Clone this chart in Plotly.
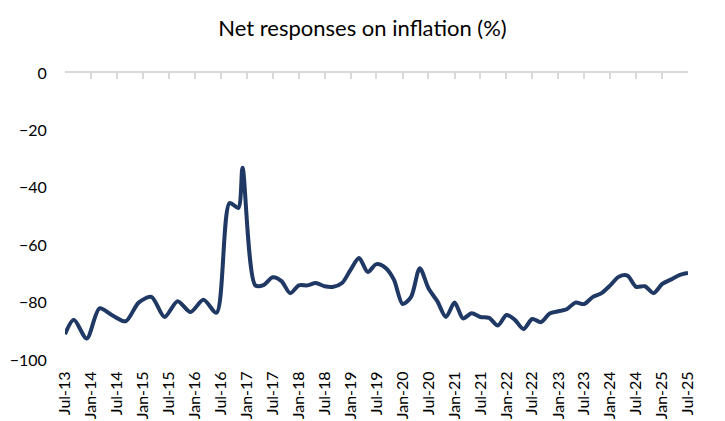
import plotly.graph_objects as go

dates = [
    "2013-07-01", "2013-09-01", "2013-12-01", "2014-03-01", "2014-06-01", "2014-09-01",
    "2014-12-01", "2015-03-01", "2015-06-01", "2015-09-01", "2015-12-01", "2016-03-01",
    "2016-06-01", "2016-09-01", "2016-11-01", "2016-12-01", "2017-03-01", "2017-05-01",
    "2017-07-01", "2017-09-01", "2017-11-01", "2018-01-01", "2018-03-01", "2018-05-01",
    "2018-07-01", "2018-09-01", "2018-11-01", "2019-01-01", "2019-03-01", "2019-05-01",
    "2019-07-01", "2019-09-01", "2019-11-01", "2020-01-01", "2020-03-01", "2020-05-01",
    "2020-07-01", "2020-09-01", "2020-11-01", "2021-01-01", "2021-03-01", "2021-05-01",
    "2021-07-01", "2021-09-01", "2021-11-01", "2022-01-01", "2022-03-01", "2022-05-01",
    "2022-07-01", "2022-09-01", "2022-11-01", "2023-01-01", "2023-03-01", "2023-05-01",
    "2023-07-01", "2023-09-01", "2023-11-01", "2024-01-01", "2024-03-01", "2024-05-01",
    "2024-07-01", "2024-09-01", "2024-11-01", "2025-01-01", "2025-03-01", "2025-05-01",
    "2025-07-01",
]
net_inflation = [
    -91.0, -86.0, -92.5, -82.0, -84.5, -86.5,
    -80.0, -78.0, -85.0, -79.5, -83.3, -79.0,
    -83.5, -45.3, -47.0, -33.0, -74.0, -73.8,
    -71.2, -72.5, -76.7, -74.0, -74.0, -73.2,
    -74.3, -74.5, -73.2, -68.5, -64.5, -69.3,
    -66.6, -67.8, -72.0, -80.5, -78.0, -68.0,
    -75.0, -79.5, -85.0, -80.0, -85.5, -83.7,
    -85.0, -85.3, -88.0, -84.3, -86.0, -89.2,
    -85.7, -86.8, -83.8, -83.0, -82.3, -80.0,
    -80.5, -78.0, -76.7, -74.0, -71.0, -70.6,
    -74.5, -74.3, -76.7, -73.5, -72.0, -70.4,
    -69.7,
]

tick_dates = []
tick_labels = []
for yr in range(13, 26):
    if yr > 13:
        tick_dates.append(f"20{yr}-01-01")
        tick_labels.append(f"Jan-{yr}")
    tick_dates.append(f"20{yr}-07-01")
    tick_labels.append(f"Jul-{yr}")

title_text = "Net responses on inflation (%)"
font_family = "Lato, Carlito, Calibri, sans-serif"

fig = go.Figure()
fig.add_trace(go.Scatter(
    x=dates, y=net_inflation, mode="lines",
    line=dict(color="#1F3864", width=4, shape="spline", smoothing=0.8),
    showlegend=False, hoverinfo="skip",
))
fig.add_trace(go.Scatter(
    x=[dates[0]], y=[None], xaxis="x2", mode="lines",
    showlegend=False, hoverinfo="skip",
))

fig.update_layout(
    width=725, height=421,
    margin=dict(l=65, r=37, t=73, b=61, autoexpand=False),
    paper_bgcolor="white", plot_bgcolor="white",
    font=dict(family=font_family, color="#000000", size=15),
    title=dict(text=title_text, x=0.5, xanchor="center", y=0.932, yanchor="middle",
               font=dict(size=22, family=font_family, color="#000000")),
    xaxis=dict(
        type="date", range=["2013-07-01", "2025-07-01"], automargin=False,
        tickmode="array", tickvals=tick_dates, ticktext=tick_labels,
        tickangle=-90, showgrid=False, showline=False, zeroline=False,
        ticks="outside", ticklen=4, tickcolor="rgba(0,0,0,0)",
        tickfont=dict(size=16),
    ),
    xaxis2=dict(
        type="date", range=["2013-07-01", "2025-07-01"], overlaying="x",
        side="top", anchor="y", matches="x", automargin=False,
        tickmode="array", tickvals=tick_dates,
        showticklabels=False, showgrid=False, zeroline=False,
        showline=True, linecolor="#D9D9D9", linewidth=1.5,
        ticks="inside", ticklen=6, tickcolor="#D9D9D9", tickwidth=1.5,
    ),
    yaxis=dict(
        range=[-100, 0], dtick=20, tick0=0, showgrid=False, zeroline=False,
        showline=False, ticks="outside", ticklen=14, tickcolor="rgba(0,0,0,0)",
        tickfont=dict(size=16), automargin=False,
    ),
)

fig.write_html("out.html")
